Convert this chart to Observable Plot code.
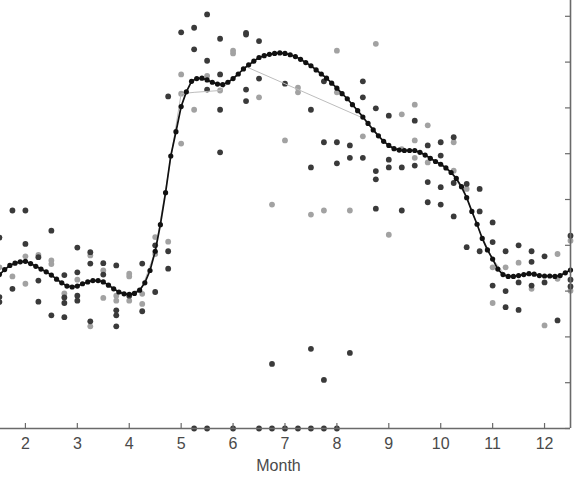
<!DOCTYPE html>
<html><head><meta charset="utf-8">
<script src="https://cdn.jsdelivr.net/npm/d3@7"></script>
<script src="https://cdn.jsdelivr.net/npm/@observablehq/plot@0.6"></script>
<style>body{margin:0;background:#fff}#chart svg{display:block}</style>
</head><body><div id="chart"></div>
<script>
const xTicks = [2, 3, 4, 5, 6, 7, 8, 9, 10, 11, 12];
const yTicks = [0, 10, 20, 30, 40, 50, 60, 70, 80, 90];
const xLabel = "Month";

// observations, darker series [month, value]
const darkPts = [
[1.5,41.7],[1.5,28.7],[1.5,27.6],
[1.75,47.6],[1.75,30.5],
[2,47.6],[2,40.3],
[2.25,37.4],[2.25,32.3],[2.25,27.7],
[2.5,43.2],[2.5,24.7],
[2.75,33.5],[2.75,28.6],[2.75,27.4],[2.75,24.3],
[3,39.5],[3,34.1],[3,29],[3,27.9],
[3.25,38.5],[3.25,36],[3.25,23.4],
[3.5,36.1],[3.5,33.6],
[3.75,35.6],[3.75,25.8],[3.75,24.7],[3.75,22.3],
[4,29],
[4.25,36],[4.25,25.6],
[4.5,40],[4.5,29.8],
[4.75,72.5],[4.75,38.7],[4.75,34.9],
[5,86.5],
[5.25,87.5],[5.25,82.8],[5.25,0],
[5.5,90.4],[5.5,80.3],[5.5,74],[5.5,0],
[5.75,85.1],[5.75,77.3],[5.75,69.6],[5.75,60.3],
[6,0],
[6.25,86.4],[6.25,86],[6.25,74],[6.25,71.5],
[6.5,84.6],[6.5,76.4],[6.5,0],
[6.75,14.1],[6.75,0],
[7,75.3],[7,0],
[7.25,0],
[7.5,69.6],[7.5,57],[7.5,17.4],[7.5,0],
[7.75,75.8],[7.75,62.5],[7.75,10.6],[7.75,0],
[8,62.5],[8,57.9],[8,0],
[8.25,61.8],[8.25,59.1],[8.25,16.5],
[8.5,75.8],[8.5,72.3],[8.5,59.1],
[8.75,69.9],[8.75,56.2],[8.75,54.4],[8.75,48],
[9,68.3],[9,58.7],[9,57],
[9.25,57],[9.25,47.6],
[9.5,67.2],[9.5,57.4],
[9.75,61.8],[9.75,53.8],[9.75,49.4],
[10,62.5],[10,59.6],[10,52.7],[10,48.9],
[10.25,63.6],[10.25,53.6],[10.25,46.3],
[10.5,53.4],[10.5,39.6],
[10.75,52.3],[10.75,47.4],[10.75,38.7],
[11,45],[11,40.7],[11,31.2],
[11.25,38.7],[11.25,30],[11.25,26.5],
[11.5,40],[11.5,31.9],[11.5,25.9],
[11.75,38.7],[11.75,36.4],[11.75,31.2],
[12,37.6],[12,31.9],
[12.25,23.6],
[12.5,42.1],[12.5,32.5],[12.5,31]
];

// observations, lighter series [month, value]
const grayPts = [
[1.5,35.2],[1.75,33.2],[2,37.6],[2,31.6],[2.25,37.9],[2.5,36.7],[2.5,35.9],[2.75,29.5],
[3,32.5],[3.25,37.8],[3.25,22.3],[3.5,34.5],[3.5,28.5],[3.75,29],[3.75,27.9],
[4,33.8],[4,33.2],[4,27.9],[4.25,29.4],[4.25,27.2],[4.5,41.8],[4.5,38.1],[4.75,40.8],
[5,77.3],[5,73.1],[5,62.2],[5.25,69.6],[5.5,77],[5.75,73.8],[6,82.5],[6,81.9],
[6.5,72.3],[6.75,48.9],[7,62.9],[7.25,74.4],[7.25,73.4],[7.5,46.7],[7.75,47.6],
[8,82.5],[8,73.4],[8.25,47.6],[8.5,63.8],[8.75,84],[9,42.3],[9.25,68.6],[9.25,61],
[9.5,70.7],[9.5,62.9],[9.5,59.1],[9.75,66.2],[9.75,58.1],[10.25,62.5],[10.25,56.3],
[10.5,52.3],[11,35.2],[11,27.4],[11.25,35.2],[11.5,36.2],[11.75,30.5],[12,22.5],
[12.25,38.1],[12.25,32.7],[12.5,41],[12.5,30.1]
];

// coarse (weekly) line [month, value]
const weeklyLine = [
[1.5,33.6],[1.75,35.9],[2,36.5],[2.25,35.1],[2.5,33.5],[2.75,31.4],[3,31.1],[3.25,32.2],
[3.5,32],[3.75,30.1],[4,29.3],[4.25,30.8],[4.5,38.7],[4.75,55.5],[5,73.1],[5.25,73.4],
[5.5,73.6],[5.75,73.8],[6,76.4],[6.25,79],[8.5,67.8],[8.75,64.6],[9,61.8],[9.25,60.7],
[9.5,60.7],[9.75,59.3],[10,57.7],[10.25,55.2],[10.5,50.4],[10.75,43],[11,37],
[11.25,33.4],[11.5,33.4],[11.75,33.7],[12,33.3],[12.25,33.2],[12.5,34.6]
];

// smoothed curve [month, value]
const smooth = [
[1.5,33.6],[1.6,34.7],[1.7,35.6],[1.8,36.1],[1.9,36.4],[2.0,36.5],[2.1,36.0],[2.2,35.4],
[2.3,34.8],[2.4,34.2],[2.5,33.5],[2.6,32.6],[2.7,31.8],[2.8,31.1],[2.9,30.9],[3.0,31.1],
[3.1,31.6],[3.2,32.0],[3.3,32.3],[3.4,32.3],[3.5,32.0],[3.6,31.3],[3.7,30.5],[3.8,29.8],
[3.9,29.4],[4.0,29.3],[4.1,29.5],[4.2,30.2],[4.3,31.8],[4.4,34.5],[4.5,38.7],[4.6,44.5],
[4.7,51.5],[4.8,59.5],[4.9,64.8],[5.0,70.3],[5.1,73.5],[5.2,75.8],[5.3,76.4],[5.4,76.5],
[5.5,76.1],[5.6,75.6],[5.7,75.2],[5.8,75.1],[5.9,75.6],[6.0,76.4],[6.1,77.4],[6.2,78.5],
[6.3,79.4],[6.4,80.2],[6.5,81.0],[6.6,81.4],[6.7,81.7],[6.8,81.9],[6.9,82.0],[7.0,81.9],
[7.1,81.6],[7.2,81.2],[7.3,80.6],[7.4,79.9],[7.5,79.2],[7.6,78.3],[7.7,77.4],[7.8,76.5],
[7.9,75.4],[8.0,74.3],[8.1,73.1],[8.2,72.0],[8.3,70.7],[8.4,69.4],[8.5,68.0],[8.6,66.6],
[8.7,65.2],[8.8,63.9],[8.9,62.7],[9.0,61.8],[9.1,61.1],[9.2,60.8],[9.3,60.7],[9.4,60.7],
[9.5,60.7],[9.6,60.3],[9.7,59.7],[9.8,59.0],[9.9,58.3],[10.0,57.7],[10.1,56.9],[10.2,55.9],
[10.3,54.6],[10.4,52.8],[10.5,50.4],[10.6,47.4],[10.7,44.6],[10.8,41.5],[10.9,39.0],
[11.0,37.0],[11.1,34.8],[11.2,33.6],[11.3,33.2],[11.4,33.2],[11.5,33.4],[11.6,33.6],
[11.7,33.8],[11.8,33.7],[11.9,33.4],[12.0,33.3],[12.1,33.3],[12.2,33.2],[12.3,33.4],
[12.4,34.0],[12.5,34.6]
];

const X = d => d[0], Y = d => d[1];
const axisColor = "#6a6a6a";
const textColor = "#4a4a4a";

const chart = Plot.plot({
  width: 582,
  height: 479,
  marginLeft: 0,
  marginRight: 12,
  marginTop: 0,
  marginBottom: 51,
  x: {domain: [1.52, 12.5], axis: null},
  y: {domain: [0, 93.45], axis: null},
  style: {background: "#fff", fontFamily: "'Liberation Sans', Arial, sans-serif", fontSize: "16px"},
  marks: [
    Plot.dot(grayPts, {x: X, y: Y, r: 2.9, fill: "#a2a2a2", stroke: "none"}),
    Plot.dot(darkPts, {x: X, y: Y, r: 2.9, fill: "#3a3a3a", stroke: "none"}),
    Plot.line(weeklyLine, {x: X, y: Y, stroke: "#bdbdbd", strokeWidth: 1}),
    Plot.line(smooth, {x: X, y: Y, stroke: "#111", strokeWidth: 1.7}),
    Plot.dot(smooth, {x: X, y: Y, r: 2.6, fill: "#111", stroke: "none"}),
    Plot.ruleY([0], {stroke: axisColor, strokeWidth: 1.6}),
    Plot.ruleX([12.5], {stroke: axisColor, strokeWidth: 1.6}),
    Plot.ruleX(xTicks, {x: d => d, y1: 0, y2: 0, insetBottom: 5, stroke: axisColor, strokeWidth: 1.2}),
    Plot.ruleY(yTicks, {y: d => d, x1: 12.5, x2: 12.5, insetRight: 5, stroke: axisColor, strokeWidth: 1.2}),
    Plot.axisX({ticks: xTicks, tickSize: 0, tickPadding: 9, label: null, fill: textColor, fontSize: 16}),
    Plot.text([xLabel], {text: d => d, frameAnchor: "bottom", dy: 42, dx: -7, fontSize: 16, fill: textColor})
  ]
});
document.getElementById("chart").appendChild(chart);
</script>
</body></html>
